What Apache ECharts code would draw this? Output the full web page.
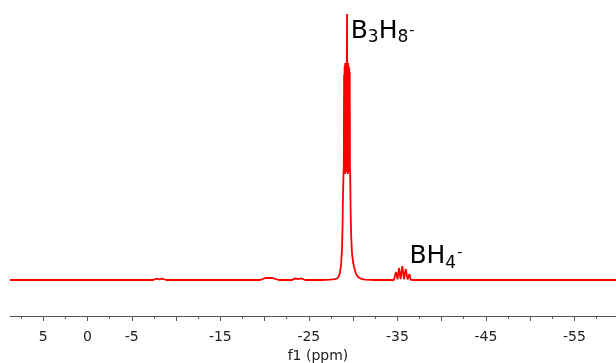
<!DOCTYPE html>
<html>
<head>
<meta charset="utf-8">
<script src="https://cdn.jsdelivr.net/npm/echarts@6/dist/echarts.min.js"></script>
<style>
  html, body { margin: 0; padding: 0; background: #fff; }
  #chart { width: 616px; height: 363px; }
</style>
</head>
<body>
<div id="chart"></div>
<script>
// chemical shift (ppm) and signal height
const shiftPpm = [
  8.76, 5.0, 0.0, -5.0, -7.4, -7.6, -7.8, -8.1, -8.4, -8.6, -8.9,
  -12, -16, -19.5, -19.8, -20.1, -20.5, -20.9, -21.3, -21.6,
  -23.1, -23.4, -23.6, -23.85, -24.1, -24.3, -24.6,
  -26.5, -27.4, -27.96, -28.19, -28.41, -28.53, -28.64, -28.75, -28.81, -28.86, -28.92,
  -28.95, -28.98, -29.01, -29.04, -29.07, -29.10, -29.13, -29.16, -29.19, -29.22, -29.25, -29.28,
  -29.32, -29.35, -29.38, -29.41, -29.44, -29.47, -29.50, -29.53, -29.56, -29.59, -29.62, -29.65,
  -29.68, -29.72, -29.77, -29.83, -29.88, -30.00, -30.11, -30.23, -30.34,
  -30.56, -30.90, -31.35, -32.5,
  -34.6, -34.75, -34.85, -35.02, -35.19, -35.37, -35.56, -35.75, -35.95, -36.15, -36.36, -36.5,
  -37, -45, -59.7
]
const signal = [
  0, 0, 0, 0, 0, 0.8, 1.4, 0.7, 1.4, 1.2, 0,
  0, 0, 0, 1.0, 2.0, 2.2, 2.0, 0.8, 0,
  0, 1.5, 1.7, 1.0, 1.6, 1.5, 0,
  0, 0.3, 0.8, 1.5, 4, 8, 15, 32, 55, 85, 108,
  112, 205, 110, 214, 108, 217, 106, 216, 108, 215, 110, 214,
  266, 108, 215, 106, 217, 110, 214, 108, 212, 110, 208, 110,
  100, 70, 48, 35, 26, 18, 13, 9, 6,
  3, 1.2, 0.4, 0,
  0, 0.3, 8, 0.6, 12, 0.8, 14, 0.8, 11, 0.6, 6, 0.2,
  0, 0, 0
]

const labelValues = [5, 0, -5, -15, -25, -35, -45, -55]
const majorTicks = [5, 0, -5, -10, -15, -20, -25, -30, -35, -40, -45, -50, -55]
const minorTicks = [7.5, 2.5, -2.5, -7.5, -12.5, -17.5, -22.5, -27.5, -32.5, -37.5, -42.5, -47.5, -52.5, -57.5]

const xMin = -59.7
const xMax = 8.76

const chart = echarts.init(document.getElementById('chart'))

const font = 'DejaVu Sans, sans-serif'
const axisColor = '#555'

// rich text styles for the ion formulas; supDrop pushes the charge sign down
const chem = (supDrop) => ({
  m: { fontSize: 25, lineHeight: 30, fontFamily: font, color: '#000' },
  s: { fontSize: 17, lineHeight: 16, verticalAlign: 'bottom', fontFamily: font, color: '#000' },
  p: { fontSize: 14, lineHeight: 18, verticalAlign: 'top', padding: [supDrop, 0, 0, 1], fontFamily: font, color: '#000' }
})

const option = {
  animation: false,
  grid: { left: 10, right: 0, top: 10, bottom: 47, outerBoundsMode: 'none', containLabel: false },
  xAxis: [
    {
      type: 'value',
      min: xMin,
      max: xMax,
      inverse: true,
      position: 'bottom',
      splitLine: { show: false },
      axisLine: { onZero: false, lineStyle: { color: axisColor, width: 1 } },
      axisTick: { customValues: majorTicks, length: 5, lineStyle: { color: axisColor } },
      axisLabel: {
        customValues: labelValues,
        margin: 14,
        fontSize: 14,
        fontFamily: font,
        color: '#222'
      },
      name: 'f1 (ppm)',
      nameLocation: 'middle',
      nameGap: 28,
      nameTextStyle: { fontSize: 14, fontFamily: font, color: '#222', padding: [0, 0, 0, 10] }
    },
    {
      // minor ticks only
      type: 'value',
      min: xMin,
      max: xMax,
      inverse: true,
      position: 'bottom',
      splitLine: { show: false },
      axisLine: { show: false, onZero: false },
      axisTick: { customValues: minorTicks, length: 3, lineStyle: { color: axisColor } },
      axisLabel: { show: false }
    }
  ],
  yAxis: {
    type: 'value',
    min: -36,
    max: 270,
    show: false
  },
  series: [
    {
      type: 'line',
      xAxisIndex: 0,
      data: shiftPpm.map((p, i) => [p, signal[i]]),
      showSymbol: false,
      sampling: null,
      lineStyle: { color: '#ff0000', width: 1.8 },
      markPoint: {
        symbol: 'circle',
        symbolSize: 0,
        silent: true,
        label: { show: true, position: 'right', distance: 0 },
        data: [
          {
            coord: [-29.73, 248.5],
            label: { formatter: '{m|B}{s|3}{m|H}{s|8}{p|-}', rich: chem(8) }
          },
          {
            coord: [-36.36, 23.3],
            label: { formatter: '{m|BH}{s|4}{p|-}', rich: chem(5) }
          }
        ]
      }
    }
  ]
}

chart.setOption(option)
</script>
</body>
</html>
